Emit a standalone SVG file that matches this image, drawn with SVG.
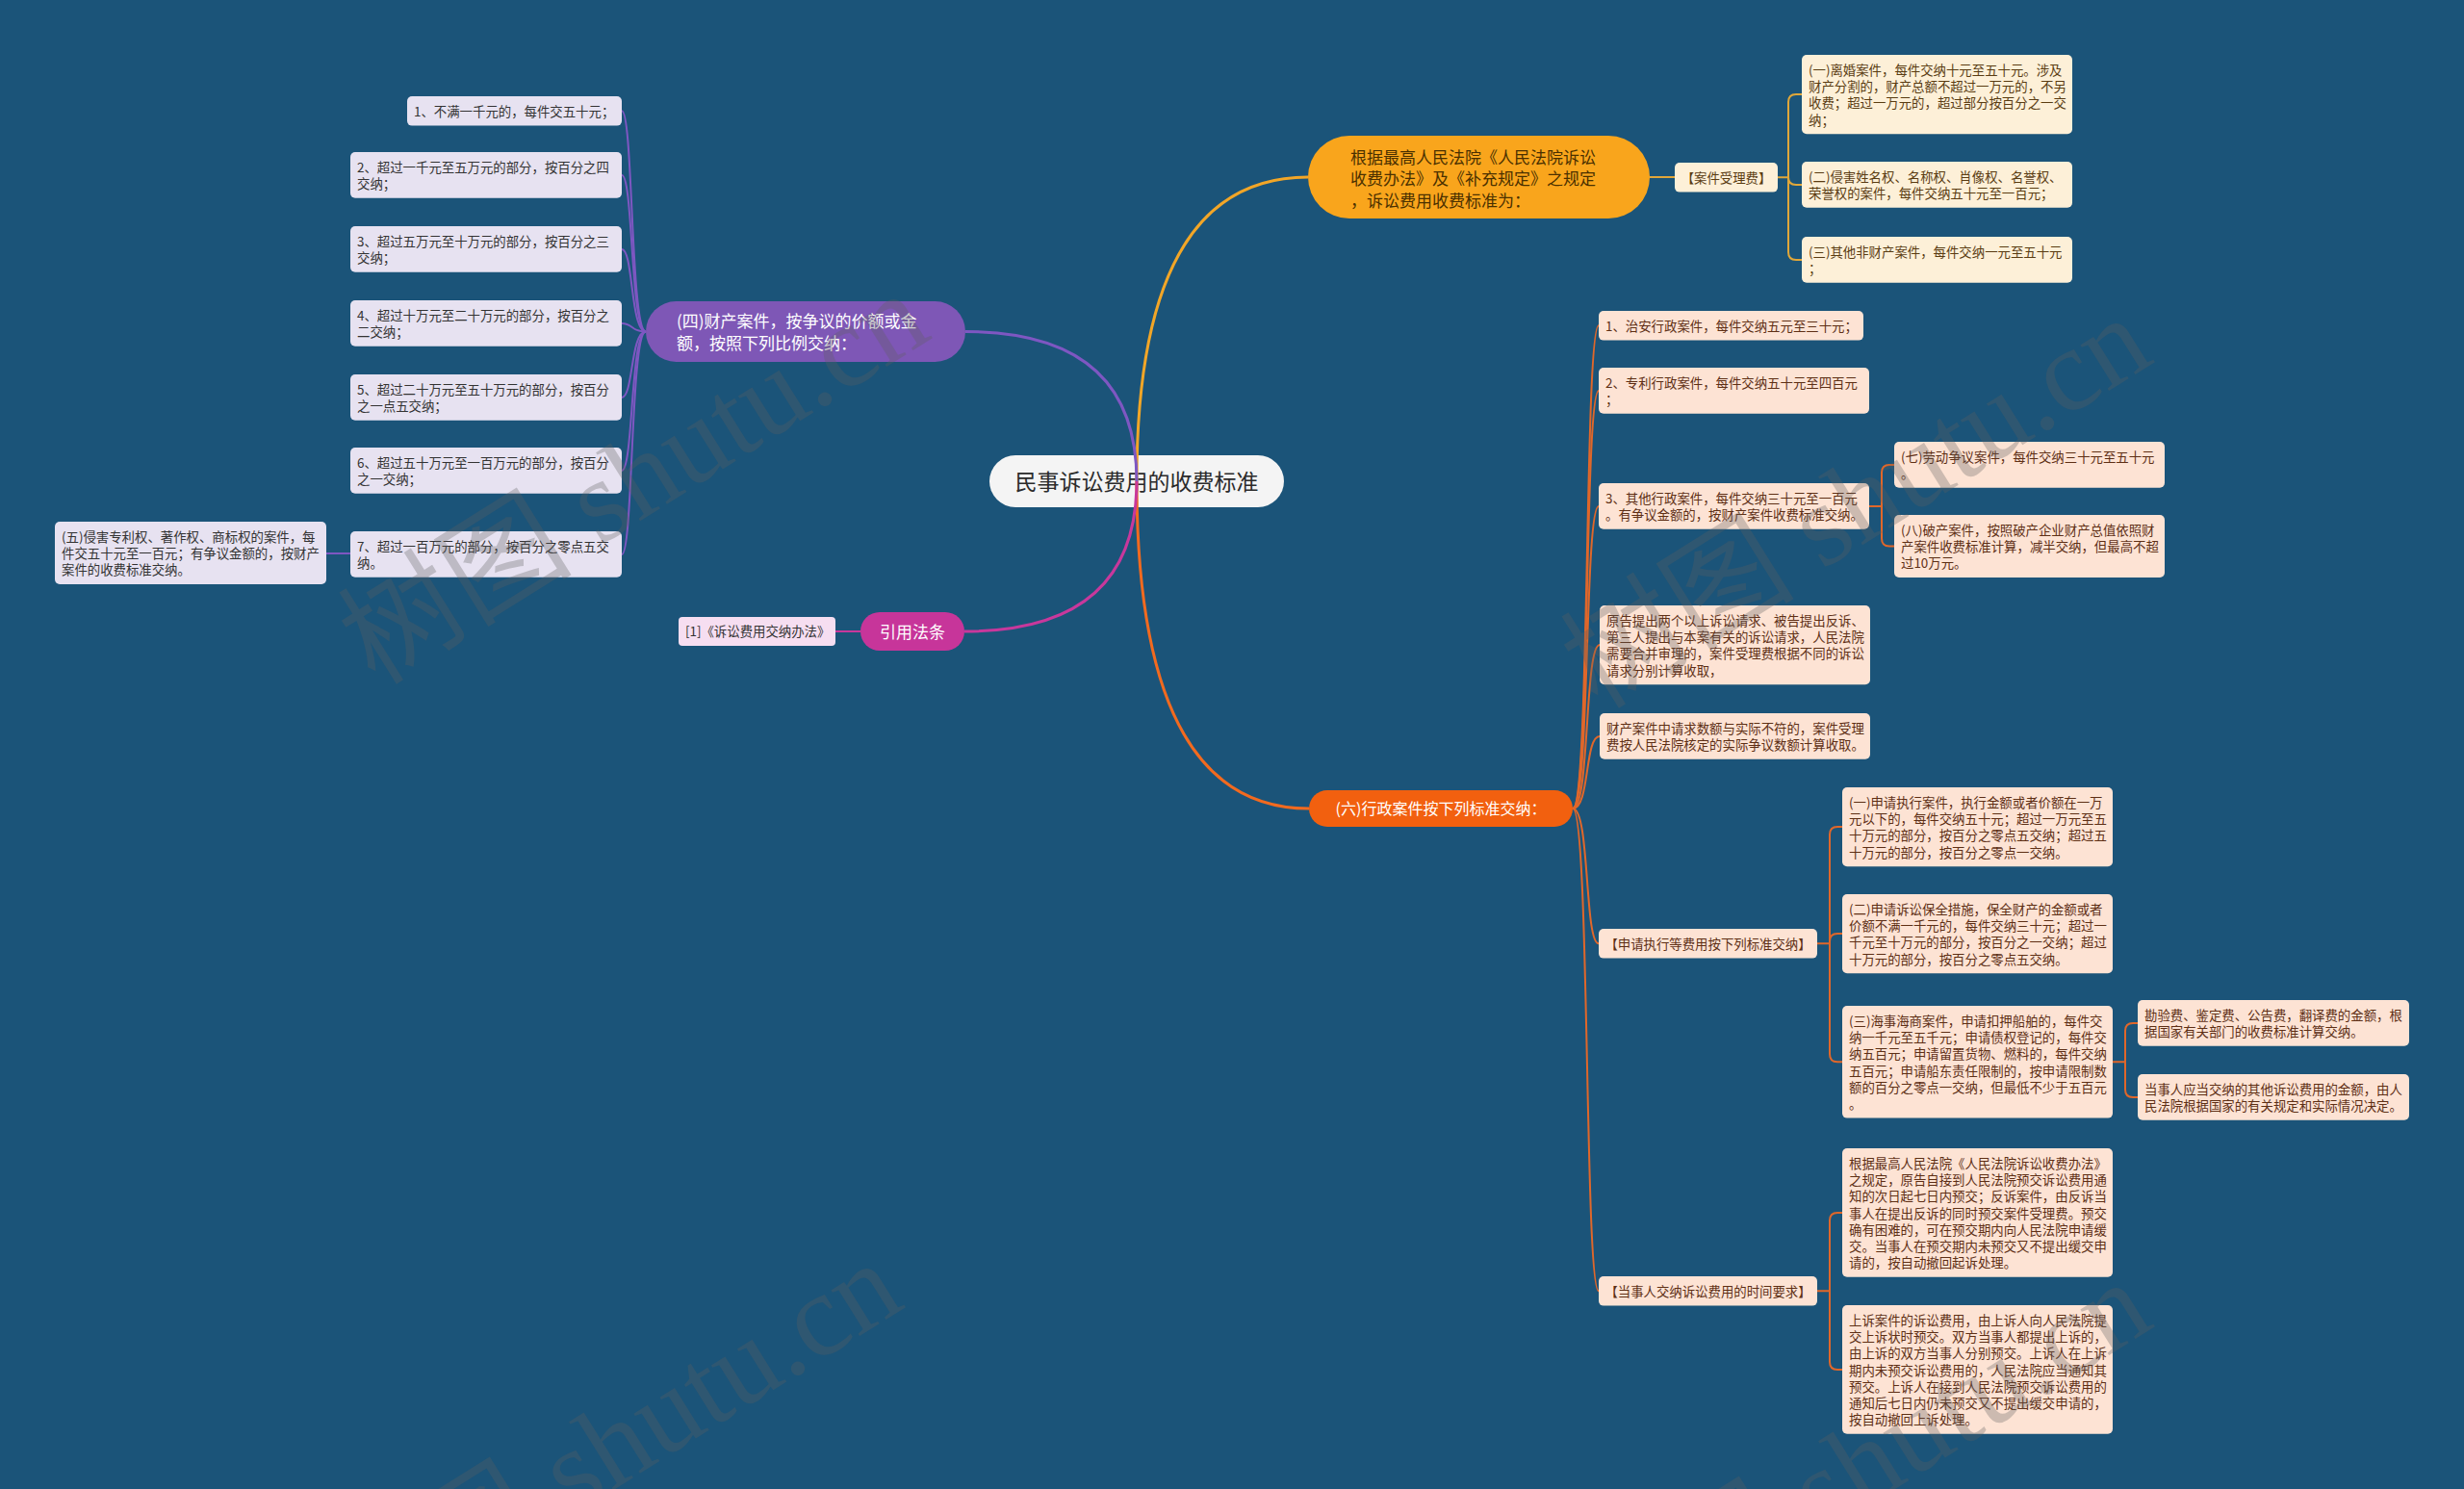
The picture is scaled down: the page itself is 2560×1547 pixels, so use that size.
<svg xmlns="http://www.w3.org/2000/svg" width="2560" height="1547" viewBox="0 0 2560 1547">
<style>
text{font-family:"Noto Sans CJK SC","Noto Sans",sans-serif;}
.t{font-size:13.4px;}
.lp{fill:#e7e2f1;}
.ly{fill:#fdf0d8;}
.lo{fill:#fde3d4;}
.tp{fill:#333333;}
.ty{fill:#5a3c12;}
.to{fill:#5e2f15;}
.w{fill:#ffffff;}
.cp{fill:none;stroke:#7e57c2;stroke-width:2;}
.cy{fill:none;stroke:#e0a73a;stroke-width:2;}
.co{fill:none;stroke:#e0672a;stroke-width:2;}
.cm{fill:none;stroke:#c8389c;stroke-width:2;}
.wm{font-family:"Liberation Serif","Noto Sans CJK SC",serif;font-size:122px;fill:#5f5f5f;opacity:0.3;}
</style>
<rect x="0" y="0" width="2560" height="1547" fill="#1b5479"/>

<g id="center">
<rect x="1028" y="473" width="306" height="54" rx="27" fill="#f4f4f4"/>
<text x="1181" y="509" text-anchor="middle" font-size="23" fill="#2b2b2b">民事诉讼费用的收费标准</text>
</g>

<g id="branch-property">
<rect x="671" y="313" width="332" height="63" rx="31.5" fill="#7e57b6"/>
<text class="w" font-size="17" x="703" y="339.5">(四)财产案件，按争议的价额或金</text>
<text class="w" font-size="17" x="703" y="362.5">额，按照下列比例交纳：</text>
</g>
<g id="p1"><rect class="lp" x="423" y="100" width="223" height="30.6" rx="5"/><text class="t tp" x="430" y="121">1、不满一千元的，每件交五十元；</text></g>
<g id="p2"><rect class="lp" x="364" y="158" width="282" height="47.8" rx="5"/><text class="t tp" x="371" y="179">2、超过一千元至五万元的部分，按百分之四</text><text class="t tp" x="371" y="196.2">交纳；</text></g>
<g id="p3"><rect class="lp" x="364" y="235" width="282" height="47.8" rx="5"/><text class="t tp" x="371" y="256">3、超过五万元至十万元的部分，按百分之三</text><text class="t tp" x="371" y="273.2">交纳；</text></g>
<g id="p4"><rect class="lp" x="364" y="312" width="282" height="47.8" rx="5"/><text class="t tp" x="371" y="333">4、超过十万元至二十万元的部分，按百分之</text><text class="t tp" x="371" y="350.2">二交纳；</text></g>
<g id="p5"><rect class="lp" x="364" y="389" width="282" height="47.8" rx="5"/><text class="t tp" x="371" y="410">5、超过二十万元至五十万元的部分，按百分</text><text class="t tp" x="371" y="427.2">之一点五交纳；</text></g>
<g id="p6"><rect class="lp" x="364" y="465" width="282" height="47.8" rx="5"/><text class="t tp" x="371" y="486">6、超过五十万元至一百万元的部分，按百分</text><text class="t tp" x="371" y="503.2">之一交纳；</text></g>
<g id="p7"><rect class="lp" x="364" y="552" width="282" height="47.8" rx="5"/><text class="t tp" x="371" y="573">7、超过一百万元的部分，按百分之零点五交</text><text class="t tp" x="371" y="590.2">纳。</text></g>
<g id="p5b"><rect class="lp" x="57" y="542" width="282" height="65" rx="5"/><text class="t tp" x="64" y="563">(五)侵害专利权、著作权、商标权的案件，每</text><text class="t tp" x="64" y="580.2">件交五十元至一百元；有争议金额的，按财产</text><text class="t tp" x="64" y="597.4">案件的收费标准交纳。</text></g>

<g id="branch-law">
<rect x="894" y="636" width="108" height="40" rx="20" fill="#c7359a"/>
<text class="w" font-size="17" x="948" y="662.5" text-anchor="middle">引用法条</text>
</g>
<g id="law1"><rect x="705" y="641" width="163" height="30" rx="4" fill="#f6def1"/><text class="t tp" x="712" y="661">[1]《诉讼费用交纳办法》</text></g>

<g id="branch-rule">
<rect x="1359" y="141" width="355" height="86" rx="43" fill="#f9a51c"/>
<text font-size="17" fill="#4a3000" x="1403" y="169.5">根据最高人民法院《人民法院诉讼</text>
<text font-size="17" fill="#4a3000" x="1403" y="192">收费办法》及《补充规定》之规定</text>
<text font-size="17" fill="#4a3000" x="1403" y="214.5">，诉讼费用收费标准为：</text>
</g>
<g id="y0"><rect class="ly" x="1740" y="169" width="107" height="30.6" rx="5"/><text class="t ty" x="1793.5" y="190" text-anchor="middle">【案件受理费】</text></g>
<g id="y1"><rect class="ly" x="1872" y="57" width="281" height="82.2" rx="5"/><text class="t ty" x="1879" y="78">(一)离婚案件，每件交纳十元至五十元。涉及</text><text class="t ty" x="1879" y="95.2">财产分割的，财产总额不超过一万元的，不另</text><text class="t ty" x="1879" y="112.4">收费；超过一万元的，超过部分按百分之一交</text><text class="t ty" x="1879" y="129.6">纳；</text></g>
<g id="y2"><rect class="ly" x="1872" y="168" width="281" height="47.8" rx="5"/><text class="t ty" x="1879" y="189">(二)侵害姓名权、名称权、肖像权、名誉权、</text><text class="t ty" x="1879" y="206.2">荣誉权的案件，每件交纳五十元至一百元；</text></g>
<g id="y3"><rect class="ly" x="1872" y="246" width="281" height="47.8" rx="5"/><text class="t ty" x="1879" y="267">(三)其他非财产案件，每件交纳一元至五十元</text><text class="t ty" x="1879" y="284.2">；</text></g>

<g id="branch-admin">
<rect x="1360" y="821" width="274" height="38" rx="19" fill="#f2600f"/>
<text class="w" font-size="16" x="1497" y="846" text-anchor="middle">(六)行政案件按下列标准交纳：</text>
</g>
<g id="o1"><rect class="lo" x="1661" y="323" width="275" height="30.6" rx="5"/><text class="t to" x="1668" y="344">1、治安行政案件，每件交纳五元至三十元；</text></g>
<g id="o2"><rect class="lo" x="1661" y="382" width="281" height="47.8" rx="5"/><text class="t to" x="1668" y="403">2、专利行政案件，每件交纳五十元至四百元</text><text class="t to" x="1668" y="420.2">；</text></g>
<g id="o3"><rect class="lo" x="1661" y="502" width="281" height="47.8" rx="5"/><text class="t to" x="1668" y="523">3、其他行政案件，每件交纳三十元至一百元</text><text class="t to" x="1668" y="540.2">。有争议金额的，按财产案件收费标准交纳。</text></g>
<g id="o3a"><rect class="lo" x="1968" y="459" width="281" height="47.8" rx="5"/><text class="t to" x="1975" y="480">(七)劳动争议案件，每件交纳三十元至五十元</text><text class="t to" x="1975" y="497.2">。</text></g>
<g id="o3b"><rect class="lo" x="1968" y="535" width="281" height="65" rx="5"/><text class="t to" x="1975" y="556">(八)破产案件，按照破产企业财产总值依照财</text><text class="t to" x="1975" y="573.2">产案件收费标准计算，减半交纳，但最高不超</text><text class="t to" x="1975" y="590.4">过10万元。</text></g>
<g id="o4"><rect class="lo" x="1662" y="629" width="281" height="82.2" rx="5"/><text class="t to" x="1669" y="650">原告提出两个以上诉讼请求、被告提出反诉、</text><text class="t to" x="1669" y="667.2">第三人提出与本案有关的诉讼请求，人民法院</text><text class="t to" x="1669" y="684.4">需要合并审理的，案件受理费根据不同的诉讼</text><text class="t to" x="1669" y="701.6">请求分别计算收取，</text></g>
<g id="o5"><rect class="lo" x="1662" y="741" width="281" height="47.8" rx="5"/><text class="t to" x="1669" y="762">财产案件中请求数额与实际不符的，案件受理</text><text class="t to" x="1669" y="779.2">费按人民法院核定的实际争议数额计算收取。</text></g>
<g id="o6"><rect class="lo" x="1661" y="965" width="227" height="30.6" rx="5"/><text class="t to" x="1774.5" y="986" text-anchor="middle">【申请执行等费用按下列标准交纳】</text></g>
<g id="e1"><rect class="lo" x="1914" y="818" width="281" height="82.2" rx="5"/><text class="t to" x="1921" y="839">(一)申请执行案件，执行金额或者价额在一万</text><text class="t to" x="1921" y="856.2">元以下的，每件交纳五十元；超过一万元至五</text><text class="t to" x="1921" y="873.4">十万元的部分，按百分之零点五交纳；超过五</text><text class="t to" x="1921" y="890.6">十万元的部分，按百分之零点一交纳。</text></g>
<g id="e2"><rect class="lo" x="1914" y="929" width="281" height="82.2" rx="5"/><text class="t to" x="1921" y="950">(二)申请诉讼保全措施，保全财产的金额或者</text><text class="t to" x="1921" y="967.2">价额不满一千元的，每件交纳三十元；超过一</text><text class="t to" x="1921" y="984.4">千元至十万元的部分，按百分之一交纳；超过</text><text class="t to" x="1921" y="1001.6">十万元的部分，按百分之零点五交纳。</text></g>
<g id="e3"><rect class="lo" x="1914" y="1045" width="281" height="116.6" rx="5"/><text class="t to" x="1921" y="1066">(三)海事海商案件，申请扣押船舶的，每件交</text><text class="t to" x="1921" y="1083.2">纳一千元至五千元；申请债权登记的，每件交</text><text class="t to" x="1921" y="1100.4">纳五百元；申请留置货物、燃料的，每件交纳</text><text class="t to" x="1921" y="1117.6">五百元；申请船东责任限制的，按申请限制数</text><text class="t to" x="1921" y="1134.8">额的百分之零点一交纳，但最低不少于五百元</text><text class="t to" x="1921" y="1152">。</text></g>
<g id="k1"><rect class="lo" x="2221" y="1039" width="282" height="47.8" rx="5"/><text class="t to" x="2228" y="1060">勘验费、鉴定费、公告费，翻译费的金额，根</text><text class="t to" x="2228" y="1077.2">据国家有关部门的收费标准计算交纳。</text></g>
<g id="k2"><rect class="lo" x="2221" y="1116" width="282" height="47.8" rx="5"/><text class="t to" x="2228" y="1137">当事人应当交纳的其他诉讼费用的金额，由人</text><text class="t to" x="2228" y="1154.2">民法院根据国家的有关规定和实际情况决定。</text></g>
<g id="o7"><rect class="lo" x="1661" y="1326" width="227" height="30.6" rx="5"/><text class="t to" x="1774.5" y="1347" text-anchor="middle">【当事人交纳诉讼费用的时间要求】</text></g>
<g id="t1"><rect class="lo" x="1914" y="1193" width="281" height="133.8" rx="5"/><text class="t to" x="1921" y="1214">根据最高人民法院《人民法院诉讼收费办法》</text><text class="t to" x="1921" y="1231.2">之规定，原告自接到人民法院预交诉讼费用通</text><text class="t to" x="1921" y="1248.4">知的次日起七日内预交；反诉案件，由反诉当</text><text class="t to" x="1921" y="1265.6">事人在提出反诉的同时预交案件受理费。预交</text><text class="t to" x="1921" y="1282.8">确有困难的，可在预交期内向人民法院申请缓</text><text class="t to" x="1921" y="1300">交。当事人在预交期内未预交又不提出缓交申</text><text class="t to" x="1921" y="1317.2">请的，按自动撤回起诉处理。</text></g>
<g id="t2"><rect class="lo" x="1914" y="1356" width="281" height="133.8" rx="5"/><text class="t to" x="1921" y="1377">上诉案件的诉讼费用，由上诉人向人民法院提</text><text class="t to" x="1921" y="1394.2">交上诉状时预交。双方当事人都提出上诉的，</text><text class="t to" x="1921" y="1411.4">由上诉的双方当事人分别预交。上诉人在上诉</text><text class="t to" x="1921" y="1428.6">期内未预交诉讼费用的，人民法院应当通知其</text><text class="t to" x="1921" y="1445.8">预交。上诉人在接到人民法院预交诉讼费用的</text><text class="t to" x="1921" y="1463">通知后七日内仍未预交又不提出缓交申请的，</text><text class="t to" x="1921" y="1480.2">按自动撤回上诉处理。</text></g>

<g id="connectors">
<path d="M1181 500 Q1181 184 1359 184" fill="none" stroke="#f2a627" stroke-width="3"/>
<path d="M1181 500 Q1181 840 1360 840" fill="none" stroke="#f26a1f" stroke-width="3"/>
<path d="M1181 500 Q1181 344.5 1003 344.5" fill="none" stroke="#7e57c2" stroke-width="3"/>
<path d="M1181 500 Q1181 656 1002 656" fill="none" stroke="#c8389c" stroke-width="3"/>

<path class="cp" d="M671 344.5 C655 344.5 658 115.3 646 115.3"/>
<path class="cp" d="M671 344.5 C655 344.5 658 181.9 646 181.9"/>
<path class="cp" d="M671 344.5 C655 344.5 658 258.9 646 258.9"/>
<path class="cp" d="M671 344.5 C655 344.5 658 335.9 646 335.9"/>
<path class="cp" d="M671 344.5 C655 344.5 658 412.9 646 412.9"/>
<path class="cp" d="M671 344.5 C655 344.5 658 488.9 646 488.9"/>
<path class="cp" d="M671 344.5 C655 344.5 658 575.9 646 575.9"/>
<path class="cp" d="M364 575 H339"/>

<path class="cm" d="M894 656 H868"/>

<path class="cy" d="M1714 184 H1740"/>
<path class="cy" d="M1847 184.3 H1858 V106 Q1858 98 1866 98 H1872"/>
<path class="cy" d="M1858 184.3 Q1858 192 1866 192 H1872"/>
<path class="cy" d="M1858 184.3 V262 Q1858 270 1866 270 H1872"/>

<path class="co" d="M1634 840 C1652 840 1646 338.3 1661 338.3"/>
<path class="co" d="M1634 840 C1652 840 1646 406 1661 406"/>
<path class="co" d="M1634 840 C1652 840 1646 526 1661 526"/>
<path class="co" d="M1634 840 C1652 840 1646 670 1662 670"/>
<path class="co" d="M1634 840 C1652 840 1646 765 1662 765"/>
<path class="co" d="M1634 840 C1652 840 1646 980.3 1661 980.3"/>
<path class="co" d="M1634 840 C1652 840 1646 1341.3 1661 1341.3"/>

<path class="co" d="M1942 526 H1955 V491 Q1955 483 1963 483 H1968"/>
<path class="co" d="M1955 526 V559.5 Q1955 567.5 1963 567.5 H1968"/>

<path class="co" d="M1888 980.3 H1901 V867 Q1901 859 1909 859 H1914"/>
<path class="co" d="M1901 980.3 V978 Q1901 970 1909 970 H1914"/>
<path class="co" d="M1901 980.3 V1095.3 Q1901 1103.3 1909 1103.3 H1914"/>

<path class="co" d="M2195 1103.3 H2208 V1071 Q2208 1063 2216 1063 H2221"/>
<path class="co" d="M2208 1103.3 V1132 Q2208 1140 2216 1140 H2221"/>

<path class="co" d="M1888 1341.3 H1901 V1268 Q1901 1260 1909 1260 H1914"/>
<path class="co" d="M1901 1341.3 V1415 Q1901 1423 1909 1423 H1914"/>
</g>

<g id="watermarks">
<text class="wm" transform="translate(390,713) rotate(-32)">树图 shutu.cn</text>
<text class="wm" transform="translate(1660,738) rotate(-32)">树图 shutu.cn</text>
<text class="wm" transform="translate(362,1720) rotate(-32)">树图 shutu.cn</text>
<text class="wm" transform="translate(1660,1740) rotate(-32)">树图 shutu.cn</text>
</g>
</svg>
